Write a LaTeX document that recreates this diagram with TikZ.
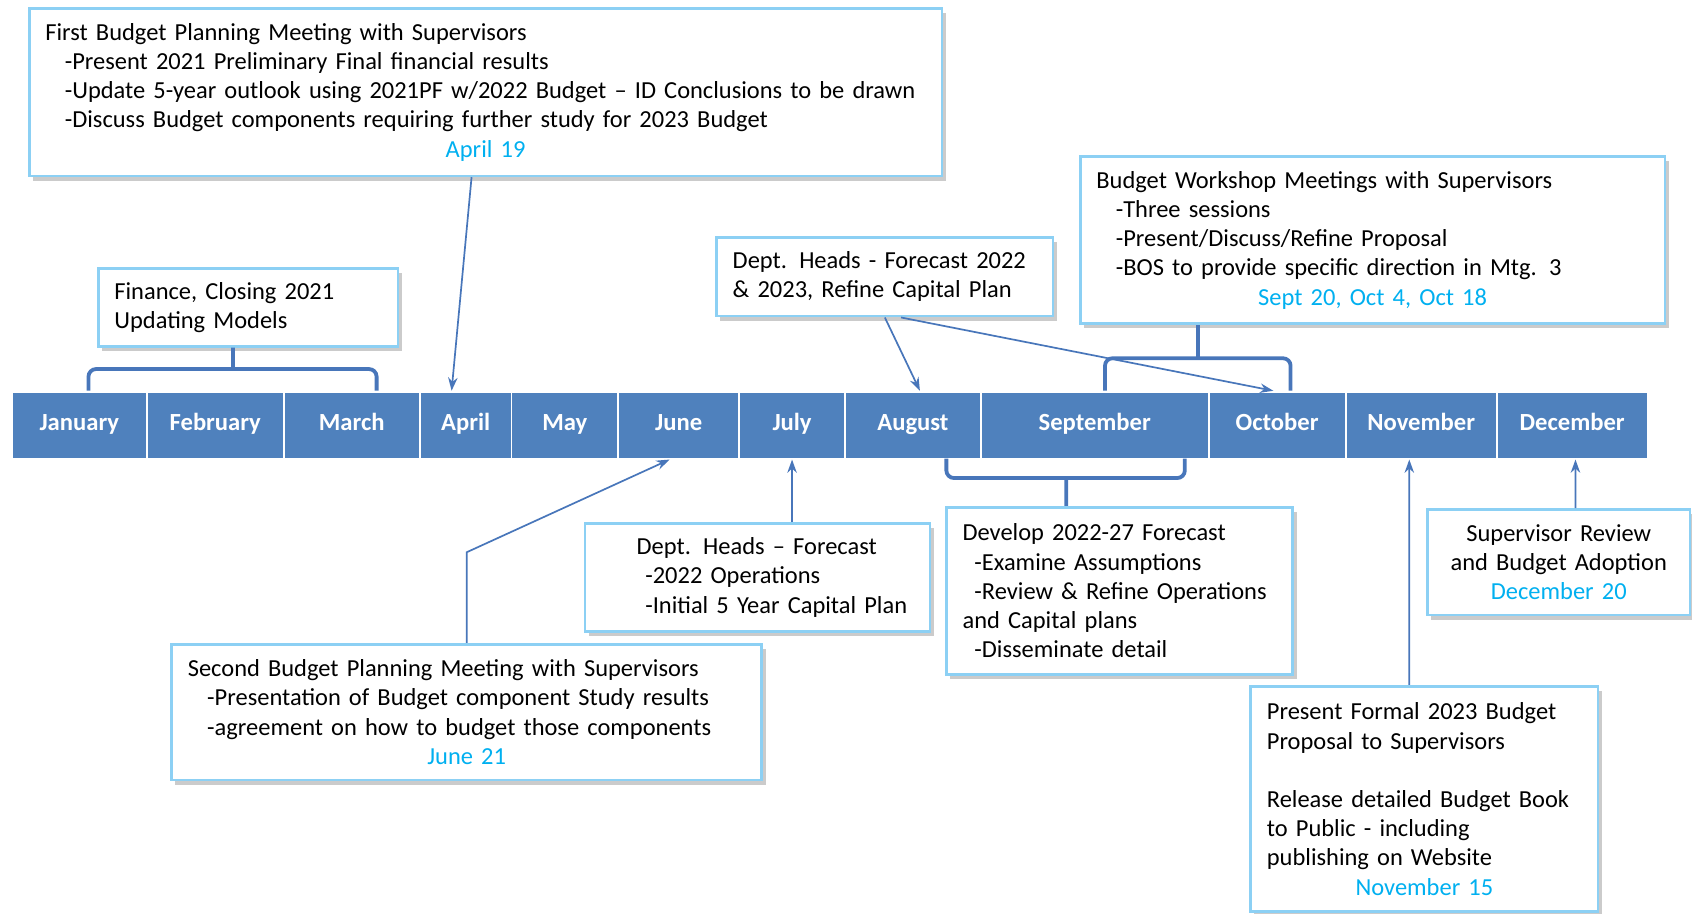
\documentclass[tikz,border=0pt]{standalone}
\usepackage{fontspec}
\setmainfont{Carlito}
\usetikzlibrary{arrows.meta,shadows,calc}

\definecolor{barblue}{RGB}{79,129,189}
\definecolor{linkblue}{RGB}{72,118,186}
\definecolor{noteline}{RGB}{140,208,244}
\definecolor{datecol}{RGB}{0,176,240}

\newcommand{\dateline}[1]{\hfill{\color{datecol}#1}\hfill\null}
\newcommand{\dashind}{\hspace*{0.36cm}}

\begin{document}
\begin{tikzpicture}[
			x=0.02cm, y=-0.02cm,
			note/.style={draw=noteline, line width=1.4pt, fill=white,
				drop shadow={shadow xshift=2pt, shadow yshift=-2.5pt, fill=black!45, opacity=.45},
				inner xsep=0.3cm, inner ysep=0pt, align=left,
				font=\fontsize{12.9}{15.4}\selectfont},
			month/.style={draw=white, line width=1pt, fill=barblue, text=white,
				font=\fontsize{13}{15}\selectfont\bfseries, minimum height=1.24cm, inner sep=0pt,
				text height=9pt, text depth=3pt},
			link/.style={draw=linkblue, line width=0.9pt, -{Stealth[length=7pt,width=5pt]}},
			brace/.style={draw=linkblue, line width=2pt, rounded corners=4pt},
			]
			\useasboundingbox (0,0) rectangle (1568,847);
			% the months
			\foreach \mkey/\mlab/\ml/\mr in {jan/January/11/136, feb/February/136/263, mar/March/263/389,
				apr/April/389/474, may/May/474/573, jun/June/573/685, jul/July/685/783,
				aug/August/783/909, sep/September/909/1120, oct/October/1120/1247,
				nov/November/1247/1387, dec/December/1387/1527}
			{
				\pgfmathsetmacro{\mwidth}{(\mr-\ml)*0.02}
				\node[month, minimum width=\mwidth cm] (\mkey) at ({(\ml+\mr)/2},394) {\mlab};
			}
			% notes above the bar
			\node[note, minimum width=16.92cm, minimum height=3.1cm, text width=16.32cm] (first) at (450,85.5)
				{First Budget Planning Meeting with Supervisors\\
				\dashind-Present 2021 Preliminary Final financial results\\
				\dashind-Update 5-year outlook using 2021PF w/2022 Budget – ID Conclusions to be drawn\\
				\dashind-Discuss Budget components requiring further study for 2023 Budget\\
				\dateline{April 19}};
			\node[note, minimum width=5.56cm, minimum height=1.44cm, text width=4.96cm] (finance) at (230,285)
				{Finance, Closing 2021\\ Updating Models};
			\node[note, minimum width=6.24cm, minimum height=1.46cm, text width=5.64cm] (heads22) at (820,256.5)
				{Dept. Heads - Forecast 2022\\ \& 2023, Refine Capital Plan};
			\node[note, minimum width=10.84cm, minimum height=3.1cm, text width=10.24cm] (workshop) at (1272,222.5)
				{Budget Workshop Meetings with Supervisors\\
				\dashind-Three sessions\\
				\dashind-Present/Discuss/Refine Proposal\\
				\dashind-BOS to provide specific direction in Mtg. 3\\
				\dateline{Sept 20, Oct 4, Oct 18}};
			% notes below the bar
			\node[note, minimum width=6.42cm, minimum height=3.1cm, text width=5.82cm] (develop) at (1037.5,547.5)
				{Develop 2022-27 Forecast\\
				\hspace*{0.22cm}-Examine Assumptions\\
				\hspace*{0.22cm}-Review \& Refine Operations\\
				and Capital plans\\
				\hspace*{0.22cm}-Disseminate detail};
			\node[note, minimum width=6.4cm, minimum height=2cm, inner xsep=0.25cm, text width=5.9cm] (headsfc) at (702,535)
				{\hspace*{0.71cm}Dept. Heads – Forecast\\
				\hspace*{0.87cm}-2022 Operations\\
				\hspace*{0.87cm}-Initial 5 Year Capital Plan};
			\node[note, minimum width=10.94cm, minimum height=2.52cm, text width=10.34cm] (second) at (432.5,660)
				{Second Budget Planning Meeting with Supervisors\\
				\dashind-Presentation of Budget component Study results\\
				\dashind-agreement on how to budget those components\\
				\dateline{June 21}};
			\node[note, minimum width=4.86cm, minimum height=1.96cm, text width=4.26cm, align=center] (review) at (1444.5,521)
				{Supervisor Review\\ and Budget Adoption\\ {\color{datecol}December 20}};
			\node[note, minimum width=6.44cm, minimum height=4.18cm, text width=5.84cm] (present) at (1320,740.5)
				{Present Formal 2023 Budget\\
				Proposal to Supervisors\\[15.4pt]
				Release detailed Budget Book\\
				to Public - including\\
				publishing on Website\\
				\dateline{November 15}};
			% brackets
			\draw[brace] (82,362) -- (82,342) -- (349,342) -- (349,362);
			\draw[brace] (216,342) -- ([xshift=-0.28cm]finance.south);
			\draw[brace] (1024,362) -- (1024,332) -- (1196,332) -- (1196,362);
			\draw[brace] ([xshift=-3.24cm]workshop.south) -- ++(0,32);
			\draw[brace] (877,425) -- (877,443) -- (1098,443) -- (1098,425);
			\draw[brace] (988,443) -- ([xshift=-0.99cm]develop.north);
			% arrows
			\draw[link] ([xshift=-0.26cm]first.south) -- ([xshift=-0.26cm]apr.north);
			\draw[link] (heads22.south) -- ([xshift=0.13cm]aug.north);
			\draw[link] ([xshift=0.3cm]heads22.south) -- ([xshift=-0.07cm]oct.north);
			\draw[link] (headsfc.north -| jul.south) -- (jul.south);
			\draw[link] (second.north) -- ++(0,-84) -- ([xshift=-0.17cm]jun.south);
			\draw[link] ([xshift=-0.28cm]present.north) -- ([xshift=-0.22cm]nov.south);
			\draw[link] ([xshift=0.31cm]review.north) -- ([xshift=0.06cm]dec.south);
		\end{tikzpicture}
\end{document}
